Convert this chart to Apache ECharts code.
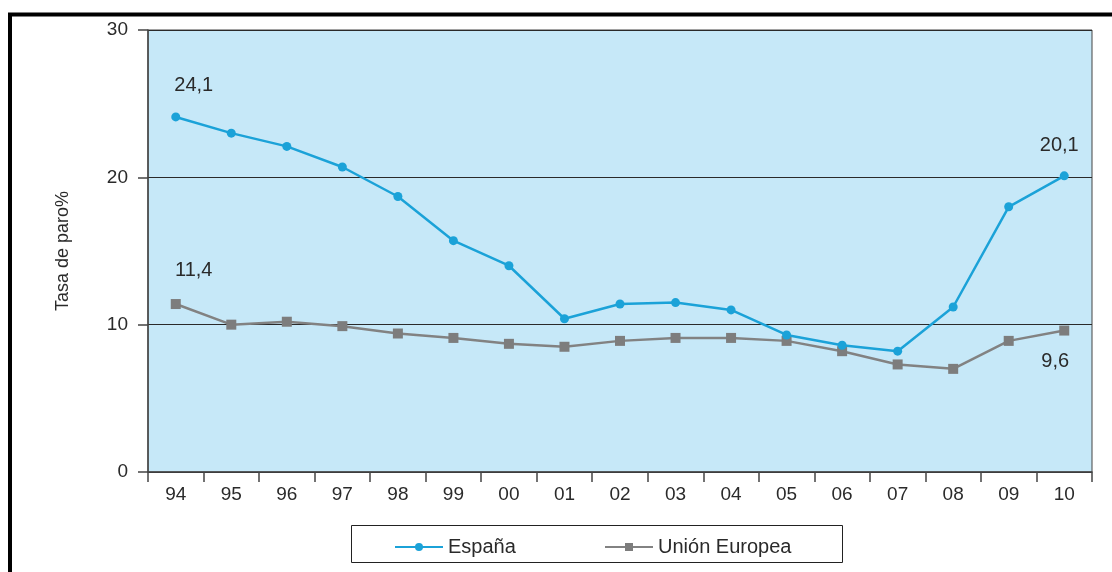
<!DOCTYPE html>
<html>
<head>
<meta charset="utf-8">
<script src="https://cdn.jsdelivr.net/npm/echarts@6/dist/echarts.min.js"></script>
<style>
html,body{margin:0;padding:0;background:#fff;}
#chart{width:1112px;height:572px;}
</style>
</head>
<body>
<div id="chart"></div>
<script>
var categories = ['94','95','96','97','98','99','00','01','02','03','04','05','06','07','08','09','10'];
var espana = [24.1, 23.0, 22.1, 20.7, 18.7, 15.7, 14.0, 10.4, 11.4, 11.5, 11.0, 9.3, 8.6, 8.2, 11.2, 18.0, 20.1];
var unionEuropea = [11.4, 10.0, 10.2, 9.9, 9.4, 9.1, 8.7, 8.5, 8.9, 9.1, 9.1, 8.9, 8.2, 7.3, 7.0, 8.9, 9.6];
var yTicks = [0, 10, 20, 30];
var espanaLabelled = [0, 16];
var ueLabelled = [0, 16];

var FONT = "'Liberation Sans', Arial, sans-serif";
function fmt(v){ return String(v.toFixed(1)).replace('.', ','); }

function buildData(values, labelled, labelCfg){
  return values.map(function(v, i){
    var k = labelled.indexOf(i);
    if (k < 0) return v;
    return { value: v, label: Object.assign({ show: true, formatter: function(p){ return fmt(p.value); } }, labelCfg[k]) };
  });
}

var labelBase = { color: '#2a2a2a', fontSize: 20, fontFamily: FONT };

var chart = echarts.init(document.getElementById('chart'), null, { renderer: 'canvas' });
chart.setOption({
  animation: false,
  backgroundColor: '#ffffff',
  textStyle: { fontFamily: FONT },
  graphic: [{
    type: 'rect',
    shape: { x: 10, y: 14.5, width: 2000, height: 2000 },
    style: { fill: 'none', stroke: '#000', lineWidth: 4 },
    silent: true, z: 100
  }, {
    type: 'rect',
    shape: { x: 351.5, y: 525.5, width: 491, height: 37 },
    style: { fill: 'none', stroke: '#222', lineWidth: 1 },
    silent: true, z: 100
  }],
  grid: {
    left: 148, right: 20, top: 30, bottom: 100,
    show: true, backgroundColor: '#c6e8f8', borderColor: '#444', borderWidth: 1
  },
  legend: [{
    data: ['España'], left: 389, top: 532, itemWidth: 48, itemHeight: 10, itemGap: 0, itemTextGap: 10,
    textStyle: { fontSize: 20, color: '#2a2a2a', fontFamily: FONT }
  }, {
    data: ['Unión Europea'], left: 599, top: 532, itemWidth: 48, itemHeight: 10, itemGap: 0, itemTextGap: 8,
    textStyle: { fontSize: 20, color: '#2a2a2a', fontFamily: FONT }
  }],
  xAxis: {
    type: 'category', data: categories, boundaryGap: true,
    axisLine: { show: true, lineStyle: { color: '#444', width: 1.5 } },
    axisTick: { show: true, length: 10, lineStyle: { color: '#444', width: 1.5 } },
    axisLabel: { color: '#2a2a2a', fontSize: 19, margin: 13, fontFamily: FONT },
    splitLine: { show: false }
  },
  yAxis: {
    type: 'value', min: yTicks[0], max: yTicks[yTicks.length - 1], interval: yTicks[1] - yTicks[0],
    name: 'Tasa de paro%', nameLocation: 'middle', nameGap: 76, nameRotate: 90,
    nameTextStyle: { color: '#2a2a2a', fontSize: 18, fontFamily: "'Liberation Sans Narrow', 'Liberation Sans', Arial, sans-serif" },
    axisLine: { show: true, lineStyle: { color: '#444', width: 1.5 } },
    axisTick: { show: true, length: 10, lineStyle: { color: '#444', width: 1.5 } },
    axisLabel: { color: '#2a2a2a', fontSize: 19, margin: 20, fontFamily: FONT },
    splitLine: { show: true, lineStyle: { color: '#2a2a2a', width: 1.2 } }
  },
  series: [{
    name: 'España', type: 'line',
    data: buildData(espana, espanaLabelled, [
      Object.assign({ position: 'top', distance: 17, offset: [18, 0] }, labelBase),
      Object.assign({ position: 'top', distance: 16, offset: [-5, 0] }, labelBase)
    ]),
    symbol: 'circle', symbolSize: 9,
    lineStyle: { color: '#1ba2d8', width: 2.5 },
    itemStyle: { color: '#1ba2d8' },
    z: 3
  }, {
    name: 'Unión Europea', type: 'line',
    data: buildData(unionEuropea, ueLabelled, [
      Object.assign({ position: 'top', distance: 19, offset: [18, 0] }, labelBase),
      Object.assign({ position: 'bottom', distance: 16, offset: [-9, 0] }, labelBase)
    ]),
    symbol: 'rect', symbolSize: 10,
    lineStyle: { color: '#828282', width: 2.5 },
    itemStyle: { color: '#7d7d7d' },
    z: 2
  }]
});
</script>
</body>
</html>
